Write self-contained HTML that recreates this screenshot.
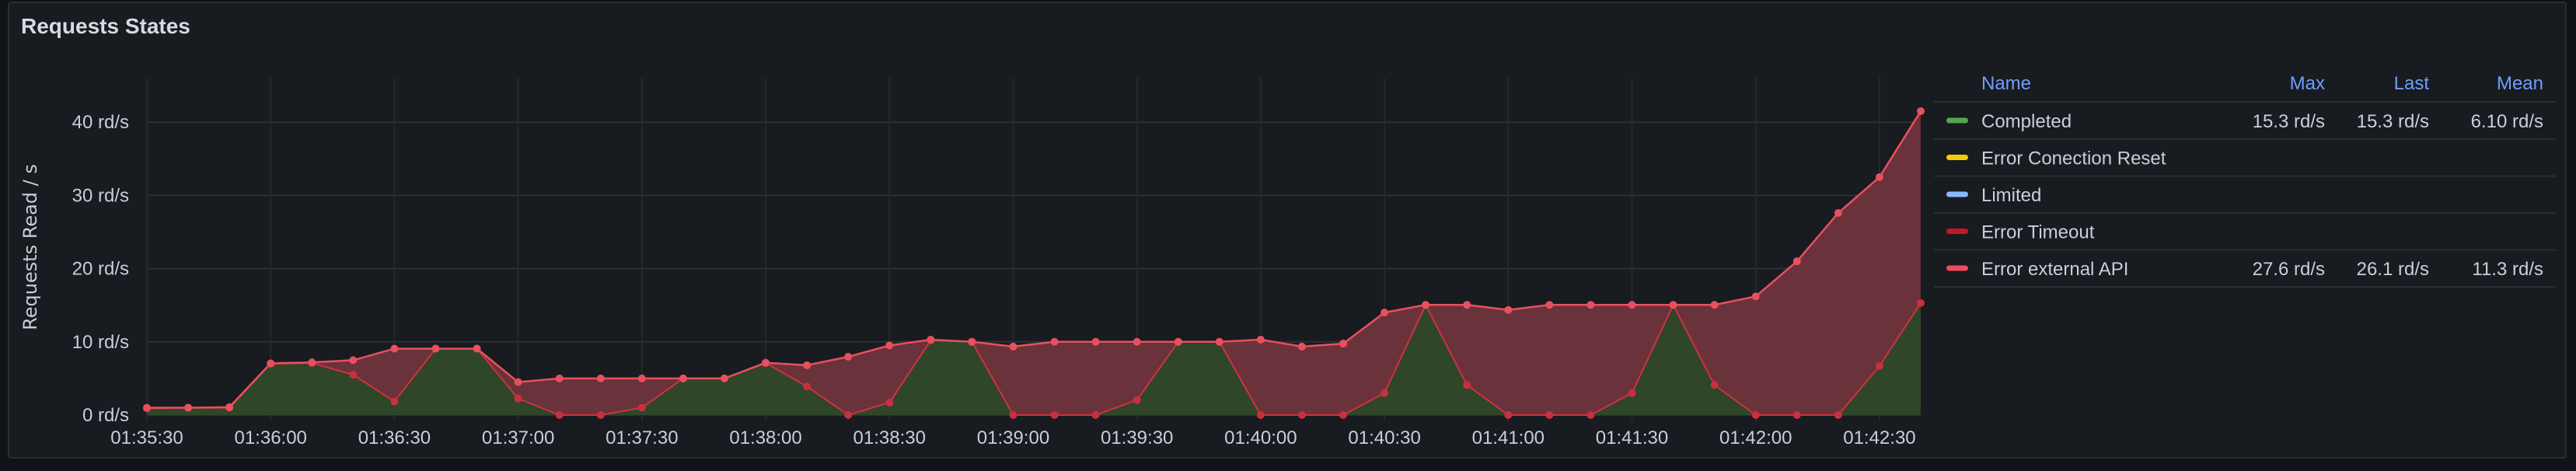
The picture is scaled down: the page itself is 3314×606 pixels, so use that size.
<!DOCTYPE html>
<html><head><meta charset="utf-8"><style>
html,body{margin:0;padding:0;background:#111217;width:3314px;height:606px;overflow:hidden;font-family:"Liberation Sans",sans-serif;}
#panel{position:absolute;left:10px;top:2px;width:3292px;height:588px;background:#181b1f;border:2px solid #2a2d33;border-radius:4px;box-sizing:border-box;}
#title{position:absolute;left:27px;top:18px;font-size:28px;font-weight:bold;color:#d8d9e2;}
svg{position:absolute;left:0;top:0;}
</style></head><body>
<div id="panel"></div>
<div id="title">Requests States</div>
<svg id="chart" width="3314" height="606"></svg>
<script>
const times = ["01:35:30","01:35:40","01:35:50","01:36:00","01:36:10","01:36:20","01:36:30","01:36:40","01:36:50","01:37:00","01:37:10","01:37:20","01:37:30","01:37:40","01:37:50","01:38:00","01:38:10","01:38:20","01:38:30","01:38:40","01:38:50","01:39:00","01:39:10","01:39:20","01:39:30","01:39:40","01:39:50","01:40:00","01:40:10","01:40:20","01:40:30","01:40:40","01:40:50","01:41:00","01:41:10","01:41:20","01:41:30","01:41:40","01:41:50","01:42:00","01:42:10","01:42:20","01:42:30","01:42:40"];
const completed = [0.9,1.0,1.0,7.0,7.1,5.5,1.85,9.07,9.07,2.25,0,0,1.0,5.0,5.0,7.1,3.9,0,1.7,10.2,10.0,0,0,0,2.05,10,10,0,0,0,3.0,15.05,4.1,0,0,0,3.0,15.05,4.1,0,0,0,6.7,15.3];
const errorExternal = [0.1,0,0.07,0.06,0.1,2.0,7.22,0,0,2.25,5.0,5.0,4.0,0,0,0.04,2.9,7.96,7.8,0.1,0,9.35,10,10,7.95,0,0,10.3,9.35,9.76,11.0,0,10.95,14.35,15.05,15.05,12.05,0,10.95,16.2,21.0,27.6,25.8,26.2];
const yTicks = [0,10,20,30,40];
const xTickLabels = ["01:35:30","01:36:00","01:36:30","01:37:00","01:37:30","01:38:00","01:38:30","01:39:00","01:39:30","01:40:00","01:40:30","01:41:00","01:41:30","01:42:00","01:42:30"];
const legendNames = ["Completed","Error Conection Reset","Limited","Error Timeout","Error external API"];
const legendMax = ["15.3 rd/s","","","","27.6 rd/s"];
const legendLast = ["15.3 rd/s","","","","26.1 rd/s"];
const legendMean = ["6.10 rd/s","","","","11.3 rd/s"];

const svg=document.getElementById('chart');
const NS='http://www.w3.org/2000/svg';
const X0=189, PX_PER_S=5.307, Y0=534, PX_PER_U=9.42, TOP=100, RIGHT=2470;
function secs(t){const p=t.split(':').map(Number);return p[0]*3600+p[1]*60+p[2];}
const t0=secs(times[0]);
function xs(t){return X0+(secs(t)-t0)*PX_PER_S;}
function ys(v){return Y0-v*PX_PER_U;}
function mk(tag,attrs,parent){const e=document.createElementNS(NS,tag);for(const k in attrs)e.setAttribute(k,attrs[k]);(parent||svg).appendChild(e);return e;}

// grid
yTicks.forEach(v=>{
  const l=mk('line',{x1:X0,x2:RIGHT,y1:ys(v),y2:ys(v),stroke:'#2e3036','stroke-width':2});
  
  
  const t=mk('text',{x:166,y:ys(v)+8,'text-anchor':'end',fill:'#ccccdc','font-size':24});
  t.textContent=v+' rd/s';
  
  
});
xTickLabels.forEach(s=>{
  const x=xs(s);
  const l=mk('line',{x1:x,x2:x,y1:TOP,y2:Y0+8,stroke:'#26282d','stroke-width':2});
  
  
  const t=mk('text',{x:x,y:571,'text-anchor':'middle',fill:'#ccccdc','font-size':24});
  t.textContent=s;
  
  
});
const at=mk('text',{x:0,y:0,'text-anchor':'middle',fill:'#ccccdc','font-size':24,transform:'translate(47,318) rotate(-90)','font-family':'DejaVu Sans, sans-serif'});
at.textContent='Requests Read / s';



// series
const gPts=times.map((t,i)=>[xs(t),ys(completed[i])]);
const tPts=times.map((t,i)=>[xs(t),ys(completed[i]+errorExternal[i])]);
const str=a=>a.map(p=>p[0].toFixed(1)+','+p[1].toFixed(1)).join(' ');
const gArea=mk('polygon',{points:str(gPts)+' '+gPts[gPts.length-1][0]+','+Y0+' '+gPts[0][0]+','+Y0,fill:'#2f4629'});


const rArea=mk('polygon',{points:str(tPts)+' '+str(gPts.slice().reverse()),fill:'#6a323a'});


const gl=mk('polyline',{points:str(gPts),fill:'none',stroke:'#d0313f','stroke-width':2});


const tl=mk('polyline',{points:str(tPts),fill:'none',stroke:'#e8505e','stroke-width':2.5});


gPts.forEach(p=>{const c=mk('circle',{cx:p[0],cy:p[1],r:5,fill:'#c8303d'});
  
  });
tPts.forEach(p=>{const c=mk('circle',{cx:p[0],cy:p[1],r:5,fill:'#e8505e'});
  
  });

// legend
const colors=['#56a64b','#f2cc0c','#8ab8ff','#c4162a','#f2495c'];
const hdr=[['Name',2549,'start'],['Max',2991,'end'],['Last',3125,'end'],['Mean',3272,'end']];
hdr.forEach(h=>{const t=mk('text',{x:h[1],y:115,'text-anchor':h[2],fill:'#6e9fff','font-size':24});
  t.textContent=h[0];
  
  });
mk('line',{x1:2488,x2:3288,y1:131,y2:131,stroke:'#2c2e33','stroke-width':2});
legendNames.forEach((n,i)=>{
  const cy=155+i*47.5;
  const sw=mk('rect',{x:2504,y:cy-3.5,width:28,height:7,rx:3.5,fill:colors[i]});
  
  
  const t=mk('text',{x:2549,y:cy+9,fill:'#ccccdc','font-size':24});t.textContent=n;
  
  
  [[legendMax,2991],[legendLast,3125],[legendMean,3272]].forEach(c=>{
    const v=mk('text',{x:c[1],y:cy+9,'text-anchor':'end',fill:'#ccccdc','font-size':24});v.textContent=c[0][i];
    
    
  });
  mk('line',{x1:2488,x2:3288,y1:cy+24,y2:cy+24,stroke:'#2c2e33','stroke-width':2});
});
</script>
</body></html>
